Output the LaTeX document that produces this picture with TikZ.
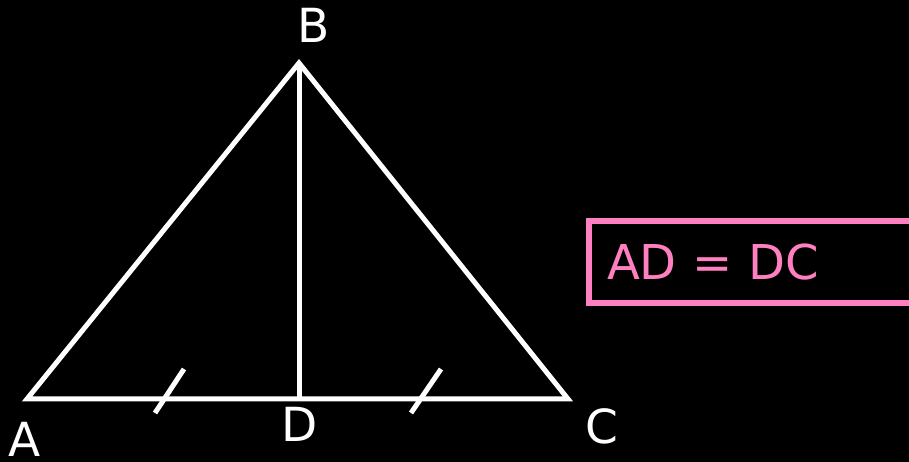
\documentclass[tikz,border=0pt]{standalone}
\usepackage{fontspec}
\setmainfont{DejaVu Sans}
\usepackage{xcolor}
\usepackage{tikz}
\usetikzlibrary{positioning}
\definecolor{markpink}{RGB}{255,128,192}
\definecolor{boardblack}{RGB}{0,0,0}
\tikzset{
  side-line/.style={draw=white, line width=5pt, line join=miter},
  tick-mark/.style={draw=white, line width=5pt},
  point-label/.style={text=white, font=\fontsize{47}{56}\selectfont, anchor=base, inner sep=0pt},
  eq-box/.style={draw=markpink, line width=6pt, text=markpink,
    font=\fontsize{48}{58}\selectfont, text width=330pt, align=left,
    inner xsep=18pt, minimum height=81.5pt, anchor=west}
}
\begin{document}
\begin{tikzpicture}[x=1pt, y=1pt]
\useasboundingbox (0,0) rectangle (909,462);
\fill[boardblack] (0,0) rectangle (909,462);
\clip (0,0) rectangle (909,462);

% Vertices
\coordinate (A) at (27,63);
\coordinate (B) at (299,399);
\coordinate (C) at (568,63);
\coordinate (D) at (299,63);

% Triangle and median
\draw[side-line] (A) -- (B) -- (C) -- cycle;
\draw[side-line] (B) -- (D);

% Equal marks
\coordinate (t1a) at (155,49);
\coordinate (t1b) at (184,93);
\coordinate (t2a) at (411,49);
\coordinate (t2b) at (441,93);
\draw[tick-mark] (t1a) -- (t1b);
\draw[tick-mark] (t2a) -- (t2b);

% Labels
\node[point-label] (labA) at (25,5) {A};
\node[point-label] (labB) at (314,419) {B};
\node[point-label] (labC) at (602,18) {C};
\node[point-label] (labD) at (300,20) {D};

% Given
\node[eq-box] (given) at (586,200) {AD = DC};
\end{tikzpicture}
\end{document}
